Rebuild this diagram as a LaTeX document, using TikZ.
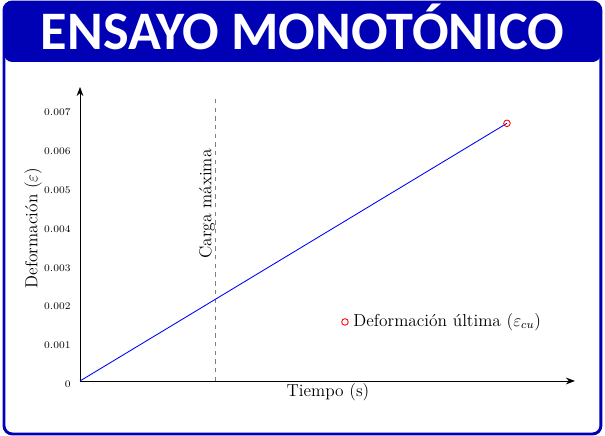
\documentclass[tikz,border=0pt]{standalone}
\usepackage{fontspec}
\newfontfamily\titlefont{Carlito}
\usetikzlibrary{arrows.meta}
\definecolor{titleblue}{RGB}{0,0,180}
\begin{document}
\begin{tikzpicture}[x=1cm, y=1cm,
    marca/.style={draw=red, circle, line width=0.6pt, inner sep=0pt, minimum size=0.16cm},
    eje/.style={-{Stealth[length=2.2mm]}, line width=0.6pt},
    tick/.style={anchor=east, font=\scriptsize, inner sep=0pt}]
      \useasboundingbox (0,0) rectangle (14.7,10.593);
      %
      \draw[titleblue, line width=2pt, rounded corners=0.2cm] (0.097,0.049) rectangle (14.60,10.544);
      \fill[titleblue, rounded corners=0.2cm] (0.097,9.087) rectangle (14.60,10.544);
      \node[anchor=base, text=white, font=\titlefont\bfseries\fontsize{37.5}{42}\selectfont] (titulo) at (7.35,9.40) {ENSAYO MONOTÓNICO};
      %
      \coordinate (O) at (1.944,1.336);
      \coordinate (xfin) at (13.970,1.336);
      \coordinate (yfin) at (1.944,8.479);
      \draw[eje] (O) -- (xfin);
      \draw[eje] (O) -- (yfin);
      %
      \foreach \k/\v in {0/0, 1/0.001, 2/0.002, 3/0.003, 4/0.004, 5/0.005, 6/0.006, 7/0.007}
        \node[tick] (t\k) at (1.725,1.251+0.945*\k) {$\v$};
      %
      \coordinate (cmaxb) at (5.236,1.336);
      \coordinate (cmaxa) at (5.236,8.285);
      \draw[gray, dashed, line width=0.5pt] (cmaxb) -- (cmaxa);
      \node[rotate=90, font=\large] (carga) at (5.029,5.637) {Carga máxima};
      %
      \coordinate (fin) at (12.318,7.597);
      \draw[blue, line width=0.6pt] (O) -- (fin);
      \node[marca] (ult) at (fin) {};
      %
      \node[marca] (ley) at (8.382,2.770) {};
      \node[anchor=west, font=\large, inner sep=0pt] (leytxt) at (8.58,2.770) {Deformación última ($\varepsilon_{cu}$)};
      %
      \node[font=\large] (xlab) at (7.969,1.069) {Tiempo (s)};
      \node[rotate=90, font=\large] (ylab) at (0.802,5.053) {Deformación ($\varepsilon$)};
      %
    \end{tikzpicture}
\end{document}
